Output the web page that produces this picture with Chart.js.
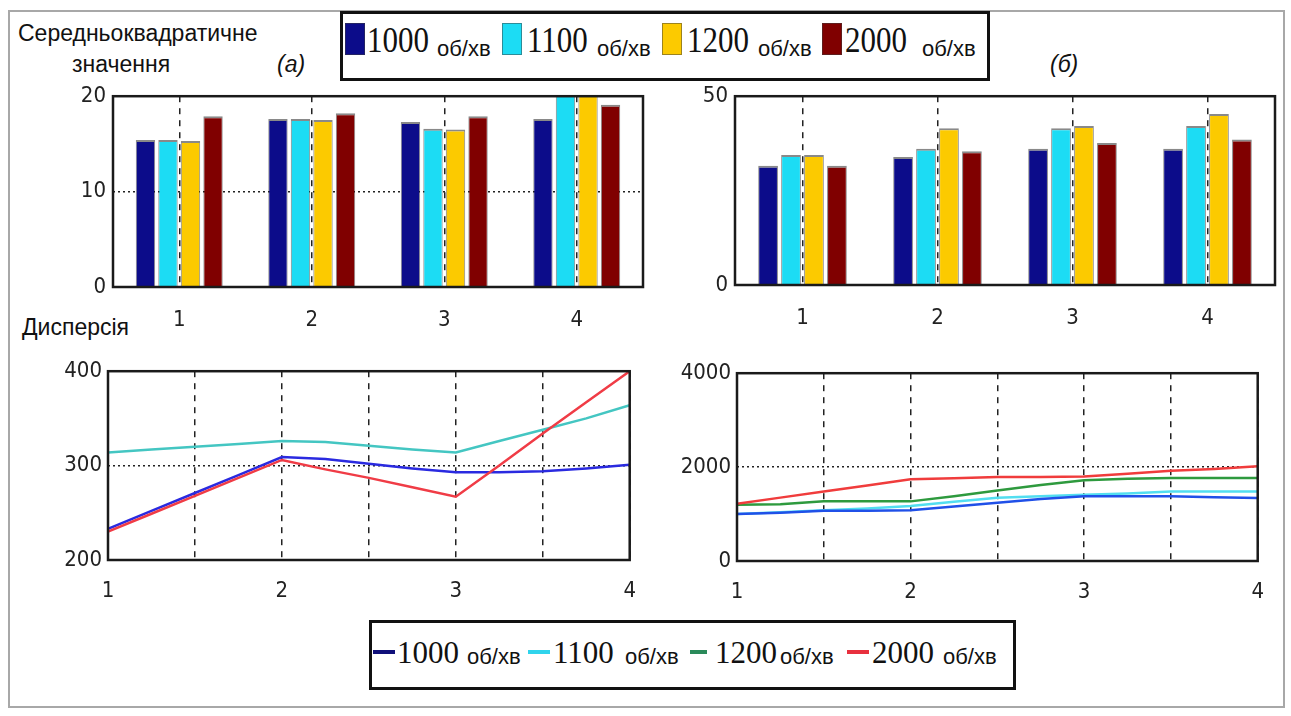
<!DOCTYPE html>
<html>
<head>
<meta charset="utf-8">
<script src="https://cdn.jsdelivr.net/npm/chart.js@4.4.1/dist/chart.umd.min.js"></script>
<style>
body { margin: 0; background: #fff; }
#page { position: relative; width: 1291px; height: 716px; overflow: hidden; font-family: "Liberation Sans", Arial, sans-serif; color: #111; }
#page span, #page div.a { position: absolute; white-space: nowrap; line-height: 1; }
canvas { position: absolute; }
.num { font-family: "Liberation Serif", "Times New Roman", serif; font-size: 31px; }
.unit { font-size: 22px; }
.lbl { font-size: 23px; }
.it { font-size: 23px; font-style: italic; }
</style>
</head>
<body>
<div id="page">
  <div class="a" style="left:8px;top:10px;width:1273px;height:694px;border:2px solid #a8a8a8;"></div>

  <span class="lbl" style="left:18px;top:22px;">Середньоквадратичне</span>
  <span class="lbl" style="left:72px;top:53px;">значення</span>
  <span class="it" style="left:277px;top:53px;">(а)</span>
  <span class="it" style="left:1050px;top:53px;">(б)</span>
  <span class="lbl" style="left:22px;top:316px;">Дисперсія</span>

  <canvas id="barA"></canvas>
  <canvas id="barB"></canvas>
  <canvas id="lineA"></canvas>
  <canvas id="lineB"></canvas>

  <div id="legTop" class="a" style="left:340px;top:11px;width:644px;height:64px;border:3px solid #111;background:#fff;"></div>
  <div id="legBot" class="a" style="left:369px;top:620px;width:641px;height:64px;border:3px solid #111;background:#fff;"></div>
</div>

<script>
// categories / speeds
var speeds = ["1000", "1100", "1200", "2000"];
var unit = "об/хв";
var groups = ["1", "2", "3", "4"];

// (а) root mean square values
var rmsA_1000 = [15.4, 17.6, 17.3, 17.6];
var rmsA_1100 = [15.4, 17.6, 16.6, 20.2];
var rmsA_1200 = [15.3, 17.5, 16.5, 20.2];
var rmsA_2000 = [17.9, 18.2, 17.9, 19.1];

// (б) root mean square values
var rmsB_1000 = [31.6, 33.9, 36.1, 36.1];
var rmsB_1100 = [34.4, 36.1, 41.5, 42.1];
var rmsB_1200 = [34.4, 41.5, 42.1, 45.3];
var rmsB_2000 = [31.6, 35.4, 37.6, 38.5];

// variance curves, sampled along x
var varX = [1, 1.25, 1.5, 1.75, 2, 2.25, 2.5, 2.75, 3, 3.25, 3.5, 3.75, 4];
var varA_1000 = [233, 252, 271, 290, 309, 307, 302, 297, 293, 293, 294, 297, 301];
var varA_1100 = [314, 317, 320, 323, 326, 325, 321, 317, 314, 326, 338, 350, 364];
var varA_2000 = [230, 249, 268, 287, 306, 296, 287, 277, 267, 300, 334, 367, 400];

var varB_1000 = [1000, 1030, 1070, 1070, 1080, 1160, 1240, 1320, 1380, 1380, 1380, 1360, 1340];
var varB_1100 = [1000, 1040, 1080, 1120, 1170, 1260, 1345, 1380, 1410, 1440, 1480, 1480, 1480];
var varB_1200 = [1200, 1210, 1270, 1270, 1270, 1380, 1500, 1620, 1720, 1750, 1770, 1770, 1770];
var varB_2000 = [1220, 1350, 1480, 1610, 1740, 1760, 1790, 1790, 1800, 1860, 1920, 1960, 2020];

var barColors = ["#0c0c8a", "#1cdcf4", "#fcca00", "#800000"];
var lineLegendColors = ["#10107a", "#30d4ec", "#2a8a5a", "#e8303e"];

var tickFont = { family: "'Liberation Sans Narrow','DejaVu Sans Condensed','Roboto Condensed','Liberation Sans',sans-serif", size: 22 };

var L = 70, T = 14, R = 14, B = 52;

function place(id, box) {
  var c = document.getElementById(id);
  var w = box[2] - box[0] + L + R, h = box[3] - box[1] + T + B;
  c.width = w; c.height = h;
  c.style.width = w + "px"; c.style.height = h + "px";
  c.style.left = (box[0] - L) + "px"; c.style.top = (box[1] - T) + "px";
  return c;
}

var framePlugin = {
  id: "frame",
  afterDraw: function(chart) {
    var a = chart.chartArea, ctx = chart.ctx;
    ctx.save();
    ctx.strokeStyle = "#1a1a1a";
    ctx.lineWidth = 2.5;
    ctx.strokeRect(a.left, a.top, a.right - a.left, a.bottom - a.top);
    ctx.restore();
  }
};

function fitW(s) { s.width = L; }
function fitH(s) { s.height = B; }
function plain(v) { return String(v); }

function barSet(vals) {
  return vals.map(function(v, i) {
    return {
      label: speeds[i] + " " + unit,
      data: v,
      backgroundColor: barColors[i],
      borderColor: "rgba(40,40,40,0.55)",
      borderWidth: { top: 2, left: 1, right: 1, bottom: 0 },
      borderSkipped: false,
      categoryPercentage: 0.68,
      barPercentage: 0.86
    };
  });
}

function barChart(id, box, sets, ymax, step, hgrid) {
  return new Chart(place(id, box), {
    type: "bar",
    data: { labels: groups, datasets: barSet(sets) },
    plugins: [framePlugin],
    options: {
      responsive: false, animation: false,
      layout: { padding: { left: 0, top: T, right: R, bottom: 0 } },
      plugins: { legend: { display: false }, tooltip: { enabled: false } },
      scales: {
        x: {
          afterFit: fitH,
          grid: { offset: false, color: "#222", lineWidth: 1.5, drawTicks: false },
          border: { display: false, dash: [6, 6] },
          ticks: { font: tickFont, color: "#222", padding: 20 }
        },
        y: {
          min: 0, max: ymax,
          afterFit: fitW,
          grid: { display: hgrid, color: "#222", lineWidth: 1.5, drawTicks: false },
          border: { display: false, dash: [2, 3] },
          ticks: { stepSize: step, font: tickFont, color: "#222", padding: 7, callback: plain }
        }
      }
    }
  });
}

function pts(ys) { return ys.map(function(y, i) { return { x: varX[i], y: y }; }); }

function lineSet(label, ys, color, order) {
  return { label: label, data: pts(ys), borderColor: color, backgroundColor: color,
           borderWidth: 2.5, pointRadius: 0, tension: 0, order: order };
}

function lineChart(id, box, sets, ymin, ymax, step) {
  return new Chart(place(id, box), {
    type: "line",
    data: { datasets: sets },
    plugins: [framePlugin],
    options: {
      responsive: false, animation: false,
      layout: { padding: { left: 0, top: T, right: R, bottom: 0 } },
      plugins: { legend: { display: false }, tooltip: { enabled: false } },
      scales: {
        x: {
          type: "linear", min: 1, max: 4,
          afterFit: fitH,
          grid: { color: "#222", lineWidth: 1.5, drawTicks: false },
          border: { display: false, dash: [6, 6] },
          ticks: { stepSize: 0.5, font: tickFont, color: "#222", padding: 18,
                   callback: function(v) { return Number.isInteger(v) ? String(v) : ""; } }
        },
        y: {
          min: ymin, max: ymax,
          afterFit: fitW,
          grid: { color: "#222", lineWidth: 1.5, drawTicks: false },
          border: { display: false, dash: [2, 3] },
          ticks: { stepSize: step, font: tickFont, color: "#222", padding: 6, callback: plain }
        }
      }
    }
  });
}

barChart("barA", [113, 90, 643, 287], [rmsA_1000, rmsA_1100, rmsA_1200, rmsA_2000], 20, 10, true);
barChart("barB", [735, 90, 1275, 285], [rmsB_1000, rmsB_1100, rmsB_1200, rmsB_2000], 50, 50, false);

lineChart("lineA", [108, 366, 640, 560], [
  lineSet(speeds[3], varA_2000, "#f03c46", 0),
  lineSet(speeds[0], varA_1000, "#2a2ae0", 1),
  lineSet(speeds[1], varA_1100, "#44c6c2", 2)
], 200, 400, 100);

lineChart("lineB", [737, 368, 1268, 561], [
  lineSet(speeds[3], varB_2000, "#f03c3c", 0),
  lineSet(speeds[2], varB_1200, "#2e9a3e", 1),
  lineSet(speeds[0], varB_1000, "#2050e8", 2),
  lineSet(speeds[1], varB_1100, "#52def0", 3)
], 0, 4000, 2000);

// HTML legends
var page = document.getElementById("page");
function add(cls, text, css) {
  var s = document.createElement("span");
  if (cls) s.className = cls;
  s.textContent = text;
  s.style.cssText = css;
  page.appendChild(s);
}

var topX = [[345, 367, 437], [502, 527, 597], [662, 687, 758], [822, 845, 922]];
topX.forEach(function(p, i) {
  add("", "", "left:" + p[0] + "px;top:23px;width:20px;height:32px;background:" + barColors[i] + ";border:1px solid rgba(60,60,60,0.5);box-sizing:border-box;");
  add("num", speeds[i], "left:" + p[1] + "px;top:26px;transform:scaleY(1.15);transform-origin:0 26px;");
  add("unit", unit, "left:" + p[2] + "px;top:38px;");
});

var botX = [[373, 397, 467], [528, 553, 625], [690, 715, 780], [847, 872, 943]];
botX.forEach(function(p, i) {
  add("", "", "left:" + p[0] + "px;top:650px;width:" + (i == 2 ? 17 : 22) + "px;height:4px;background:" + lineLegendColors[i] + ";");
  add("num", speeds[i], "left:" + p[1] + "px;top:637px;");
  add("unit", unit, "left:" + p[2] + "px;top:646px;");
});
</script>
</body>
</html>
